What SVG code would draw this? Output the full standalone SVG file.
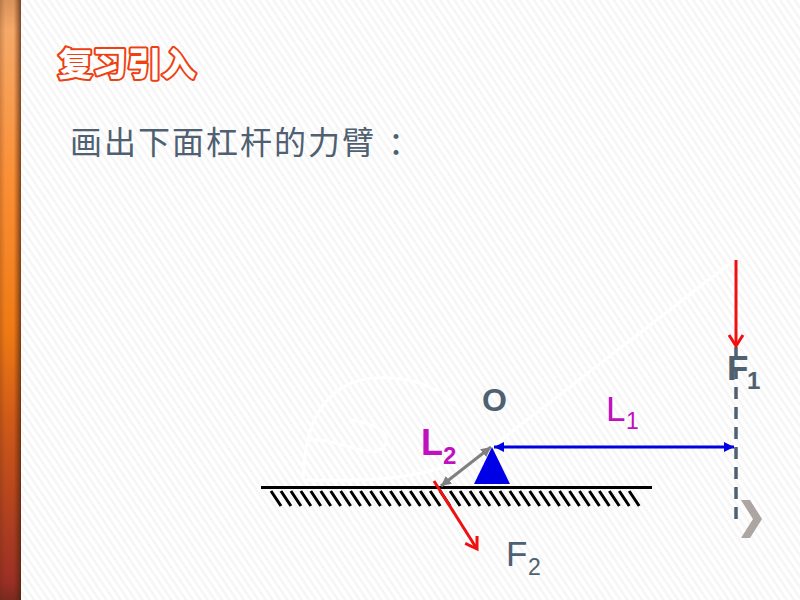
<svg xmlns="http://www.w3.org/2000/svg" width="800" height="600" viewBox="0 0 800 600">
<defs>
<pattern id="stripes" width="6" height="6" patternUnits="userSpaceOnUse" patternTransform="rotate(56)">
<rect width="6" height="6" fill="#ffffff"/>
<rect width="6" height="2.500" fill="#f5f5f6"/>
</pattern>
<linearGradient id="bar" x1="0" y1="0" x2="0" y2="1">
<stop offset="0" stop-color="#d9925c"/>
<stop offset="0.05" stop-color="#f5a868"/>
<stop offset="0.3" stop-color="#fb8f35"/>
<stop offset="0.55" stop-color="#ef7a15"/>
<stop offset="0.7" stop-color="#cf5a18"/>
<stop offset="0.97" stop-color="#9b2f25"/>
<stop offset="1" stop-color="#7a2a20"/>
</linearGradient>
<linearGradient id="shade" x1="0" y1="0" x2="1" y2="0">
<stop offset="0" stop-color="#5a2a10" stop-opacity="0.25"/>
<stop offset="0.25" stop-color="#5a2a10" stop-opacity="0"/>
<stop offset="0.65" stop-color="#5a2a10" stop-opacity="0"/>
<stop offset="1" stop-color="#4a1f0a" stop-opacity="0.7"/>
</linearGradient>
<marker id="red" markerUnits="userSpaceOnUse" markerWidth="18" markerHeight="18" refX="14" refY="9" orient="auto"><path d="M3 2L14 9L3 16" fill="none" stroke="#f01010" stroke-width="3"/></marker>
<marker id="blueE" markerUnits="userSpaceOnUse" markerWidth="12" markerHeight="12" refX="10" refY="6" orient="auto-start-reverse"><path d="M0 1L10 6L0 11Z" fill="#0000e0"/></marker>
<marker id="grayE" markerUnits="userSpaceOnUse" markerWidth="12" markerHeight="12" refX="10" refY="6" orient="auto-start-reverse"><path d="M0 1L10 6L0 11Z" fill="#808080"/></marker>
</defs>
<style>
.zh{font-family:"Noto Sans CJK SC",sans-serif}
.la{font-family:"Liberation Sans",Arial,sans-serif}
.slate{fill:#4f6071}
.mag{fill:#c010c0}
.sketch{fill:none;stroke:#ffffff;stroke-width:3}
</style>
<rect width="800" height="600" fill="url(#stripes)"/>
<rect width="21" height="600" fill="url(#bar)"/>
<rect width="21" height="600" fill="url(#shade)"/>
<text class="zh" x="58" y="76" font-size="33" font-weight="900" fill="#ffffff" stroke="#ee4012" stroke-width="4" stroke-linejoin="round" paint-order="stroke" textLength="138" lengthAdjust="spacingAndGlyphs">复习引入</text>
<text class="zh slate" x="70" y="154" font-size="32" letter-spacing="2">画出下面杠杆的力臂<tspan dx="12">：</tspan></text>
<g class="sketch">
<path d="M737 258L492 447"/>
<path d="M303 480C304 430 320 382 375 378C410 376 435 385 455 405"/>
<path d="M308 440C330 438 350 450 375 452C395 445 390 425 350 420"/>
<path d="M303 480C360 482 410 478 440 468"/>
</g>
<g id="ground">
<path d="M261 487.500H652" stroke="#000" stroke-width="3" fill="none"/>
<path d="M271 491l10 15m-.05-15l10 15m-.05-15l10 15m-.05-15l10 15m-.05-15l10 15m-.05-15l10 15m-.05-15l10 15m-.05-15l10 15m-.05-15l10 15m-.05-15l10 15m-.05-15l10 15m-.05-15l10 15m-.05-15l10 15m-.05-15l10 15m-.05-15l10 15m-.05-15l10 15m-.05-15l10 15m-.05-15l10 15m-.05-15l10 15m-.05-15l10 15m-.05-15l10 15m-.05-15l10 15m-.05-15l10 15m-.05-15l10 15m-.05-15l10 15m-.05-15l10 15m-.05-15l10 15m-.05-15l10 15m-.05-15l10 15m-.05-15l10 15m-.05-15l10 15m-.05-15l10 15m-.05-15l10 15m-.05-15l10 15m-.05-15l10 15m-.05-15l10 15m-.05-15l10 15" stroke="#000" stroke-width="3" fill="none"/>
</g>
<g id="fulcrum"><path d="M492 447L510 484H474Z" fill="#0000e6"/></g>
<g id="connectors">
<path d="M736 347V520" stroke="#4f6071" stroke-width="3.500" stroke-dasharray="12 8" fill="none"/>
<path d="M736 260V346" stroke="#f01010" stroke-width="3" fill="none" marker-end="url(#red)"/>
<path d="M434 481L477 549" stroke="#f01010" stroke-width="3" fill="none" marker-end="url(#red)"/>
<path d="M494 447H734" stroke="#0000e0" stroke-width="3" fill="none" marker-start="url(#blueE)" marker-end="url(#blueE)"/>
<path d="M491 447L441 486" stroke="#808080" stroke-width="3" fill="none" marker-start="url(#grayE)" marker-end="url(#grayE)"/>
</g>
<g id="labels">
<text class="la slate" x="727" y="380" font-size="35" font-weight="bold">F</text>
<text class="la slate" x="747" y="389" font-size="24" font-weight="bold">1</text>
<text class="la slate" x="482" y="411" font-size="32" font-weight="bold">O</text>
<text class="la mag" x="606" y="421" font-size="35">L</text>
<text class="la mag" x="626" y="429" font-size="23">1</text>
<text class="la mag" x="421" y="455" font-size="36" font-weight="bold">L</text>
<text class="la mag" x="443" y="464" font-size="24" font-weight="bold">2</text>
<text class="la slate" x="506" y="566" font-size="35">F</text>
<text class="la slate" x="528" y="575" font-size="23">2</text>
</g>
<path id="chevron" d="M741 500H750L762 519L750 538H741L753 519Z" fill="#aca5a1"/>
</svg>
